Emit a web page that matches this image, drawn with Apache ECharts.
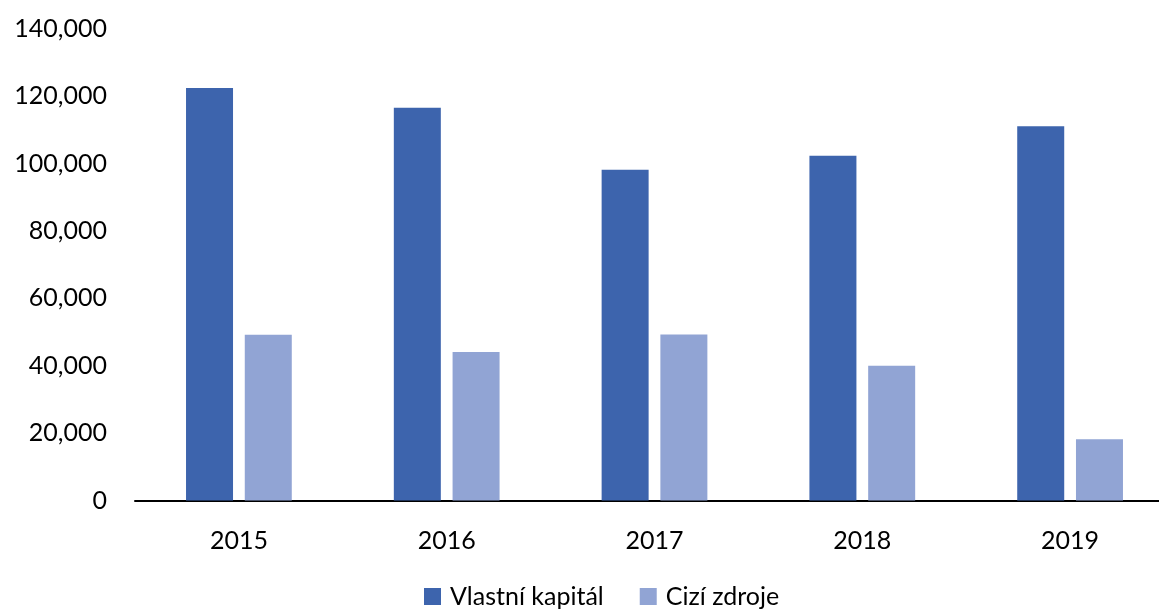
<!DOCTYPE html>
<html>
<head>
<meta charset="utf-8">
<script src="https://cdn.jsdelivr.net/npm/echarts@6/dist/echarts.min.js"></script>
<style>
  html, body { margin: 0; padding: 0; background: #ffffff; overflow: hidden; }
  #chart { width: 1174px; height: 611px; }
</style>
</head>
<body>
<div id="chart"></div>
<script>
// Years on the category axis
const years = ['2015', '2016', '2017', '2018', '2019'];
// Equity (Vlastní kapitál)
const vlastniKapital = [122500, 116600, 98200, 102400, 111100];
// Borrowed funds (Cizí zdroje)
const ciziZdroje = [49200, 44100, 49300, 40000, 18200];
// Value axis ticks
const yTicks = { min: 0, max: 140000, interval: 20000 };

const FONT = 'Lato';
const chart = echarts.init(document.getElementById('chart'));
chart.setOption({
  animation: false,
  backgroundColor: '#ffffff',
  textStyle: { fontFamily: FONT },
  grid: { left: 135, right: 0, top: 29, bottom: 110.5, containLabel: false },
  legend: {
    data: ['Vlastní kapitál', 'Cizí zdroje'],
    left: 419,
    top: 579,
    icon: 'rect',
    itemWidth: 17,
    itemHeight: 17,
    itemGap: 36,
    textStyle: { fontFamily: FONT, fontSize: 25, color: '#000000', padding: [0, 0, 0, 4] }
  },
  xAxis: {
    type: 'category',
    data: years,
    axisLine: { show: true, lineStyle: { color: '#000000', width: 2 } },
    axisTick: { show: false },
    axisLabel: { color: '#000000', fontFamily: FONT, fontSize: 25, margin: 28 },
    splitLine: { show: false }
  },
  yAxis: {
    type: 'value',
    min: yTicks.min,
    max: yTicks.max,
    interval: yTicks.interval,
    axisLine: { show: false },
    axisTick: { show: false },
    splitLine: { show: false },
    axisLabel: {
      color: '#000000', fontFamily: FONT, fontSize: 25, margin: 28,
      formatter: v => v.toLocaleString('en-US')
    }
  },
  series: [
    {
      name: 'Vlastní kapitál',
      type: 'bar',
      data: vlastniKapital,
      barWidth: 47,
      barGap: '25%',
      itemStyle: { color: '#3D64AD' }
    },
    {
      name: 'Cizí zdroje',
      type: 'bar',
      data: ciziZdroje,
      barWidth: 47,
      barGap: '25%',
      itemStyle: { color: '#91A4D4' }
    }
  ]
});
</script>
</body>
</html>
